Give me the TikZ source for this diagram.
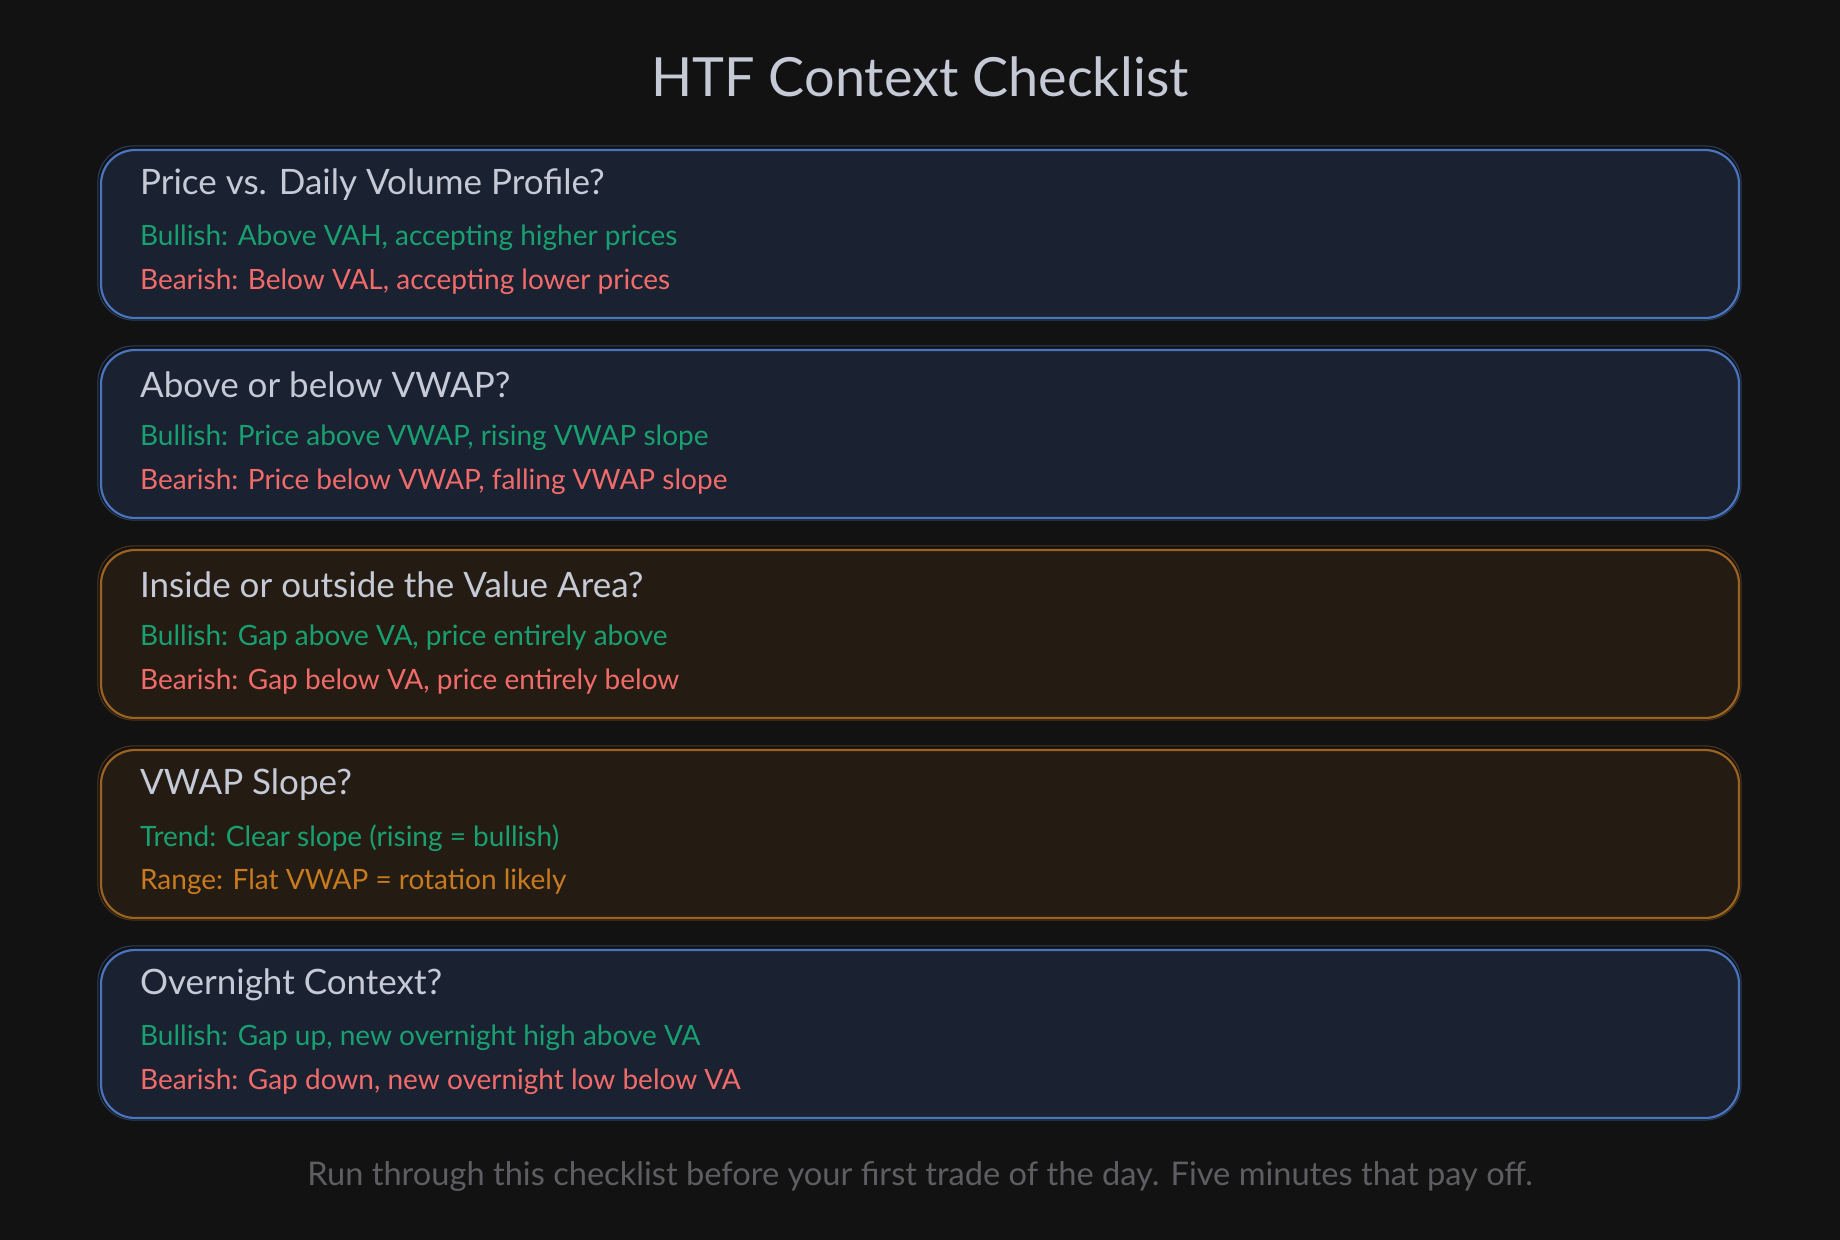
\documentclass[tikz,border=0pt]{standalone}
\usepackage{fontspec}
\setmainfont{Lato}
\usetikzlibrary{positioning}
\definecolor{pagebg}{HTML}{121212}
\definecolor{bluefill}{HTML}{1A2130}
\definecolor{blueline}{HTML}{4A75BE}
\definecolor{orangefill}{HTML}{241C13}
\definecolor{orangeline}{HTML}{9C6320}
\definecolor{headtext}{HTML}{C5CAD6}
\definecolor{bulltext}{HTML}{18A070}
\definecolor{beartext}{HTML}{F26B6B}
\definecolor{rangetext}{HTML}{C77A1E}
\definecolor{foottext}{HTML}{5E5E62}

\begin{document}
\begin{tikzpicture}[x=1pt,y=-1pt]
\tikzstyle{card}=[rectangle, rounded corners=34pt, line width=2.2pt, minimum width=1638pt, minimum height=168pt, inner sep=0pt]
\tikzstyle{bluecard}=[card, draw=blueline, fill=bluefill]
\tikzstyle{orangecard}=[card, draw=orangeline, fill=orangefill]
\tikzstyle{sketch}=[line width=1pt, opacity=0.45, rounded corners=36pt]
\tikzstyle{head}=[anchor=west, inner sep=0pt, text=headtext, font=\fontsize{35}{40}\selectfont]
\tikzstyle{item}=[anchor=west, inner sep=0pt, font=\fontsize{28}{32}\selectfont]
\tikzstyle{bull}=[item, text=bulltext]
\tikzstyle{bear}=[item, text=beartext]
\tikzstyle{flat}=[item, text=rangetext]

  % page
  \fill[pagebg] (0,0) rectangle (1840,1240);
  \useasboundingbox (0,0) rectangle (1840,1240);

  \node[text=headtext, font=\fontsize{54}{60}\selectfont] (title) at (920,77) {HTF Context Checklist};

  % cards
  \node[bluecard]   (card1) at (920,234)  {};
  \node[bluecard]   (card2) at (920,434)  {};
  \node[orangecard] (card3) at (920,634)  {};
  \node[orangecard] (card4) at (920,834)  {};
  \node[bluecard]   (card5) at (920,1034) {};

  % second stroke, hand drawn look
  \draw[sketch, blueline]   ([xshift=-2pt, yshift=3pt]card1.north west) rectangle ([xshift=1pt, yshift=-1pt]card1.south east);
  \draw[sketch, blueline]   ([xshift=-2pt, yshift=3pt]card2.north west) rectangle ([xshift=1pt, yshift=-1pt]card2.south east);
  \draw[sketch, orangeline] ([xshift=-2pt, yshift=3pt]card3.north west) rectangle ([xshift=1pt, yshift=-1pt]card3.south east);
  \draw[sketch, orangeline] ([xshift=-2pt, yshift=3pt]card4.north west) rectangle ([xshift=1pt, yshift=-1pt]card4.south east);
  \draw[sketch, blueline]   ([xshift=-2pt, yshift=3pt]card5.north west) rectangle ([xshift=1pt, yshift=-1pt]card5.south east);

  % questions and answers
  \node[head] (q1) at ([xshift=40pt, yshift=-36pt]card1.north west) {Price vs. Daily Volume Profile?};
  \node[bull] (bull1) at ([yshift=-53pt]q1.west) {Bullish: Above VAH, accepting higher prices};
  \node[bear] (bear1) at ([yshift=-44pt]bull1.west) {Bearish: Below VAL, accepting lower prices};

  \node[head] (q2) at ([xshift=40pt, yshift=-36pt]card2.north west) {Above or below VWAP?};
  \node[bull] (bull2) at ([yshift=-53pt]q2.west) {Bullish: Price above VWAP, rising VWAP slope};
  \node[bear] (bear2) at ([yshift=-44pt]bull2.west) {Bearish: Price below VWAP, falling VWAP slope};

  \node[head] (q3) at ([xshift=40pt, yshift=-36pt]card3.north west) {Inside or outside the Value Area?};
  \node[bull] (bull3) at ([yshift=-53pt]q3.west) {Bullish: Gap above VA, price entirely above};
  \node[bear] (bear3) at ([yshift=-44pt]bull3.west) {Bearish: Gap below VA, price entirely below};

  \node[head] (q4) at ([xshift=40pt, yshift=-36pt]card4.north west) {VWAP Slope?};
  \node[bull] (trend4) at ([yshift=-53pt]q4.west) {Trend: Clear slope (rising = bullish)};
  \node[flat] (range4) at ([yshift=-44pt]trend4.west) {Range: Flat VWAP = rotation likely};

  \node[head] (q5) at ([xshift=40pt, yshift=-36pt]card5.north west) {Overnight Context?};
  \node[bull] (bull5) at ([yshift=-53pt]q5.west) {Bullish: Gap up, new overnight high above VA};
  \node[bear] (bear5) at ([yshift=-44pt]bull5.west) {Bearish: Gap down, new overnight low below VA};

  \node[text=foottext, font=\fontsize{32.6}{36}\selectfont] (footer) at (920,1176) {Run through this checklist before your first trade of the day. Five minutes that pay off.};

\end{tikzpicture}
\end{document}
